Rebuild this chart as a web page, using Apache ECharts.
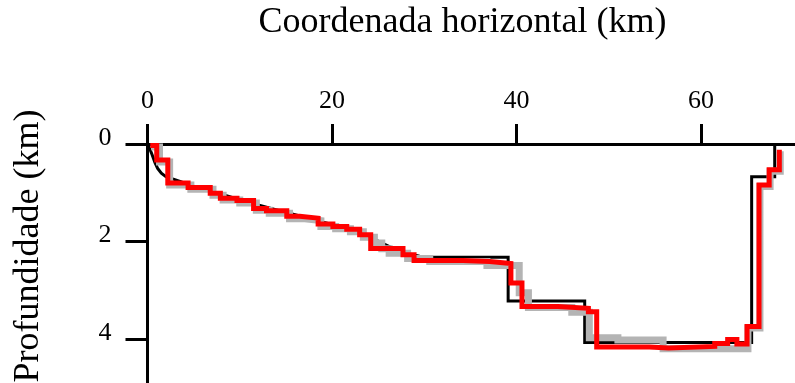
<!DOCTYPE html>
<html>
<head>
<meta charset="utf-8">
<script src="https://cdn.jsdelivr.net/npm/echarts@6/dist/echarts.min.js"></script>
<style>
  html, body { margin: 0; padding: 0; background: #fff; }
  #chart { width: 795px; height: 383px; }
</style>
</head>
<body>
<div id="chart"></div>
<script>
// Tick positions (km)
const xTicks = [0, 20, 40, 60];
const depthTicks = [0, 2, 4];

// Basement of the reference model: [horizontal km, depth km]
const modelProfile = [
  [0, 0], [0.25, 0.1], [0.5, 0.22], [0.8, 0.38], [1.1, 0.5], [1.5, 0.6], [2.0, 0.67],
  [2.8, 0.72], [3.6, 0.77], [4.5, 0.84], [6, 0.92], [8, 1.03], [10, 1.14], [12, 1.25],
  [14, 1.35], [16, 1.45], [18, 1.55], [20, 1.65], [22, 1.74], [23.5, 1.84], [25, 1.99],
  [26.5, 2.13], [28, 2.24], [29.5, 2.3], [31, 2.32], [39.1, 2.32], [39.1, 3.22],
  [47.4, 3.22], [47.4, 4.07], [65.5, 4.07], [65.5, 0.67], [68.0, 0.67], [68.0, 0]
];

// Spread of the inverted solutions (grey band)
const solutionsProfile = [
  [0.4, 0.06], [1.3, 0.06], [1.3, 0.37], [2.4, 0.37], [2.4, 0.84], [4.7, 0.84],
  [4.7, 0.93], [7.1, 0.93], [7.1, 1.05], [8.2, 1.05], [8.2, 1.15], [10.0, 1.15],
  [10.0, 1.21], [11.8, 1.21], [11.8, 1.36], [13.2, 1.36], [13.2, 1.42], [15.4, 1.42],
  [15.4, 1.53], [16.8, 1.53], [16.8, 1.57], [18.8, 1.57], [18.8, 1.69], [20.4, 1.69],
  [20.4, 1.74], [22.0, 1.74], [22.0, 1.8], [23.4, 1.8], [23.4, 1.91], [24.6, 1.91],
  [24.6, 2.03], [25.4, 2.03], [25.4, 2.15], [26.2, 2.15], [26.2, 2.24], [28.2, 2.24],
  [28.2, 2.35], [30.6, 2.35], [30.6, 2.41], [36.8, 2.41], [36.8, 2.49], [40.3, 2.49],
  [40.3, 3.05], [41.3, 3.05], [41.3, 3.35], [46.0, 3.35], [46.0, 3.45], [47.9, 3.45],
  [47.9, 3.97], [51.0, 3.97], [51.0, 4.02], [55.9, 4.02], [55.9, 4.2], [65.1, 4.2],
  [65.1, 3.77], [66.4, 3.77], [66.4, 0.87], [67.5, 0.87], [67.5, 0.56], [68.6, 0.56],
  [68.6, 0.15]
];

// Inverted basement (red)
const invertedProfile = [
  [0.3, 0.03], [1.0, 0.03], [1.0, 0.33], [2.2, 0.33], [2.2, 0.80], [4.4, 0.80],
  [4.4, 0.89], [6.8, 0.89], [6.8, 1.01], [7.9, 1.01], [7.9, 1.11], [9.7, 1.11],
  [9.7, 1.16], [11.5, 1.16], [11.5, 1.32], [12.9, 1.32], [12.9, 1.37], [15.1, 1.37],
  [15.1, 1.48], [16.5, 1.48], [16.5, 1.52], [18.5, 1.52], [18.5, 1.64], [20.1, 1.64],
  [20.1, 1.69], [21.6, 1.69], [21.6, 1.75], [23.0, 1.75], [23.0, 1.86], [24.2, 1.86],
  [24.2, 2.14], [27.7, 2.14], [27.7, 2.27], [28.9, 2.27], [28.9, 2.39], [34.2, 2.39],
  [34.2, 2.41], [37.1, 2.41], [37.1, 2.45], [39.4, 2.45], [39.4, 2.85], [40.6, 2.85],
  [40.6, 3.33], [44.5, 3.33], [44.5, 3.37], [47.8, 3.37], [47.8, 3.44], [48.7, 3.44],
  [48.7, 4.16], [54.4, 4.16], [54.4, 4.18], [56.5, 4.18], [56.5, 4.15], [61.5, 4.15],
  [61.5, 4.09], [62.9, 4.09], [62.9, 4.01], [63.9, 4.01], [63.9, 4.10], [65.0, 4.10],
  [65.0, 3.74], [66.3, 3.74], [66.3, 0.84], [67.4, 0.84], [67.4, 0.53], [68.5, 0.53],
  [68.5, 0.12]
];

const serif = '"Liberation Serif", "Times New Roman", serif';

const chart = echarts.init(document.getElementById('chart'), null, { renderer: 'canvas' });

chart.setOption({
  animation: false,
  backgroundColor: '#ffffff',
  grid: { left: 147.5, top: 144, right: 0, bottom: 0, outerBoundsMode: 'none' },
  xAxis: {
    type: 'value',
    position: 'top',
    min: 0,
    max: 70.2,
    axisLine: { show: true, onZero: false, lineStyle: { color: '#000', width: 3 } },
    axisTick: { show: true, inside: false, length: 20, customValues: xTicks,
      lineStyle: { color: '#000', width: 3 } },
    axisLabel: { customValues: xTicks, margin: 30, color: '#000', fontSize: 26, fontFamily: serif },
    splitLine: { show: false }
  },
  yAxis: {
    type: 'value',
    inverse: true,
    min: 0,
    max: 4.9,
    axisLine: { show: true, onZero: false, lineStyle: { color: '#000', width: 3 } },
    axisTick: { show: true, inside: false, length: 22, customValues: depthTicks,
      lineStyle: { color: '#000', width: 3 } },
    axisLabel: { customValues: depthTicks, margin: 36, color: '#000', fontSize: 26,
      fontFamily: serif, verticalAlign: 'bottom', lineHeight: 12 },
    splitLine: { show: false }
  },
  graphic: [
    {
      type: 'text', x: 462.5, y: 23,
      style: { text: 'Coordenada horizontal (km)', fontSize: 36, fontFamily: serif,
        fill: '#000', align: 'center', verticalAlign: 'middle' }
    },
    {
      type: 'text', x: 29, y: 246, rotation: Math.PI / 2,
      style: { text: 'Profundidade (km)', fontSize: 36, fontFamily: serif,
        fill: '#000', align: 'center', verticalAlign: 'middle' }
    }
  ],
  series: [
    {
      name: 'Modelo', type: 'line', data: modelProfile, symbol: 'none',
      lineStyle: { color: '#000', width: 3, join: 'miter' }, z: 2
    },
    {
      name: 'Soluções', type: 'line', data: solutionsProfile, symbol: 'none',
      lineStyle: { color: '#b4b4b4', width: 7, join: 'miter' }, z: 3
    },
    {
      name: 'Inversão', type: 'line', data: invertedProfile, symbol: 'none',
      lineStyle: { color: '#ff0000', width: 5, join: 'miter' }, z: 4
    }
  ]
});
</script>
</body>
</html>
